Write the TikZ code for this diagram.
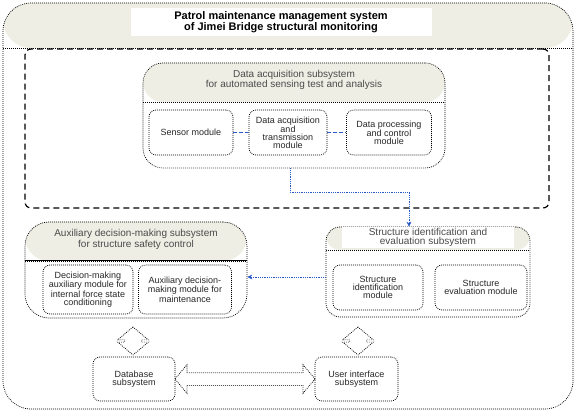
\documentclass[tikz,border=0pt]{standalone}
\usepackage{fontspec}
\setmainfont{Liberation Sans}
\usetikzlibrary{positioning,shapes.arrows,arrows.meta,calc}

\definecolor{bandgray}{RGB}{238,238,228}
\definecolor{flowblue}{RGB}{40,90,200}
\definecolor{titlegray}{RGB}{75,75,75}

\tikzset{
    dots/.style={line width=0.7pt, dash pattern=on 0.9pt off 1.1pt},
    container/.style={rectangle, draw=black, dots, inner sep=0pt},
    banded/.style={path picture={\fill[bandgray] (path picture bounding box.north west) rectangle ([yshift=-#1]path picture bounding box.north east);
        \draw[dots] ([yshift=-#1]path picture bounding box.north west) -- ([yshift=-#1]path picture bounding box.north east);}},
    subtitle/.style={align=center, text=titlegray, inner sep=1pt, font=\fontsize{10}{9}\selectfont},
    module/.style={rectangle, rounded corners=7pt, draw=black, dots, align=center, text=black!85, inner sep=1pt, font=\fontsize{9}{7.8}\selectfont},
    block/.style={double arrow, draw=black, dots, fill=white, inner xsep=0pt, inner ysep=8pt, double arrow head extend=7pt, double arrow tip angle=100},
    flow/.style={densely dotted, draw=flowblue, line width=0.8pt, -{Stealth[length=5pt,width=5pt]}},
    link/.style={draw=flowblue, line width=0.7pt, dash pattern=on 4pt off 2pt}
}

\begin{document}
\begin{tikzpicture}[x=1pt, y=-1pt, node distance=97pt]
    \useasboundingbox (0,0) rectangle (576,414);

    % whole system
    \node (frame) [container, banded=45pt, rounded corners=28pt, minimum width=570pt, minimum height=406pt] at (288,206) {};
    \node (frametitle) [fill=white, align=center, minimum width=301pt, minimum height=27pt, font=\bfseries\fontsize{11}{10.5}\selectfont] at (281,22) {Patrol maintenance management system\\of Jimei Bridge structural monitoring};
    \node (sensing) [rectangle, rounded corners=6pt, draw=black, line width=1.2pt, dash pattern=on 6pt off 4pt, minimum width=524pt, minimum height=159pt] at (287,128.5) {};

    % data acquisition
    \node (acq) [container, banded=39pt, rounded corners=20pt, minimum width=302pt, minimum height=105pt] at (294,115.5) {};
    \node (acqtitle) [subtitle] at (294,80) {Data acquisition subsystem\\for automated sensing test and analysis};
    \node (sensor) [module, minimum width=84pt, minimum height=45pt] at (191,132.5) {Sensor module};
    \node (daq) [module, minimum width=78pt, minimum height=45pt, right of=sensor] {Data acquisition\\and\\transmission\\module};
    \node (proc) [module, minimum width=85pt, minimum height=45pt, right of=daq, xshift=4pt] {Data processing\\and control\\module};

    % structure identification
    \node (struct) [container, banded=23pt, rounded corners=14pt, minimum width=204pt, minimum height=90pt] at (428,272) {};
    \node (structtitle) [subtitle, fill=white, minimum width=172pt] at (428,237.5) {Structure identification and\\evaluation subsystem};
    \node (identmod) [module, minimum width=90pt, minimum height=45pt] at (378,287.5) {Structure\\identification\\module};
    \node (evalmod) [module, minimum width=92pt, minimum height=45pt, right of=identmod, xshift=6pt] {Structure\\evaluation module};

    % auxiliary decision-making
    \node (aux) [container, banded=39pt, rounded corners=24pt, minimum width=222pt, minimum height=96pt] at (136,270) {};
    \draw ([yshift=-39pt]aux.north west) -- ([yshift=-39pt]aux.north east);
    \node (auxtitle) [subtitle] at (136,239.5) {Auxiliary decision-making subsystem\\for structure safety control};
    \node (forcemod) [module, minimum width=90pt, minimum height=49pt] at (88,289.5) {Decision-making\\auxiliary module for\\internal force state\\conditioning};
    \node (maintmod) [module, minimum width=93pt, minimum height=49pt, right of=forcemod] {Auxiliary decision-\\making module for\\maintenance};

    % database and user interface
    \node (db) [module, minimum width=82pt, minimum height=44pt] at (134,379) {Database\\subsystem};
    \node (ui) [module, minimum width=83pt, minimum height=44pt] at (356.5,379) {User interface\\subsystem};

    \node (dblink) [block, rotate=90, minimum height=28pt] at (133,341) {};
    \node (uilink) [block, rotate=90, minimum height=28pt] at (358,341) {};
    \node (dbui) [block, inner ysep=6pt, double arrow head extend=8pt, minimum height=140pt] at ($(db.east)!0.5!(ui.west)$) {};

    \draw [link] (sensor) -- (daq);
    \draw [link] (daq) -- (proc);

    \coordinate (bend) at (350,192);
    \draw [flow] ([xshift=-4pt]acq.south) |- (bend) -| ([xshift=-19pt]struct.north);
    \coordinate (split) at ([yshift=-5pt]struct.west);
    \draw [flow] (split) -- (split -| aux.east);
\end{tikzpicture}
\end{document}
